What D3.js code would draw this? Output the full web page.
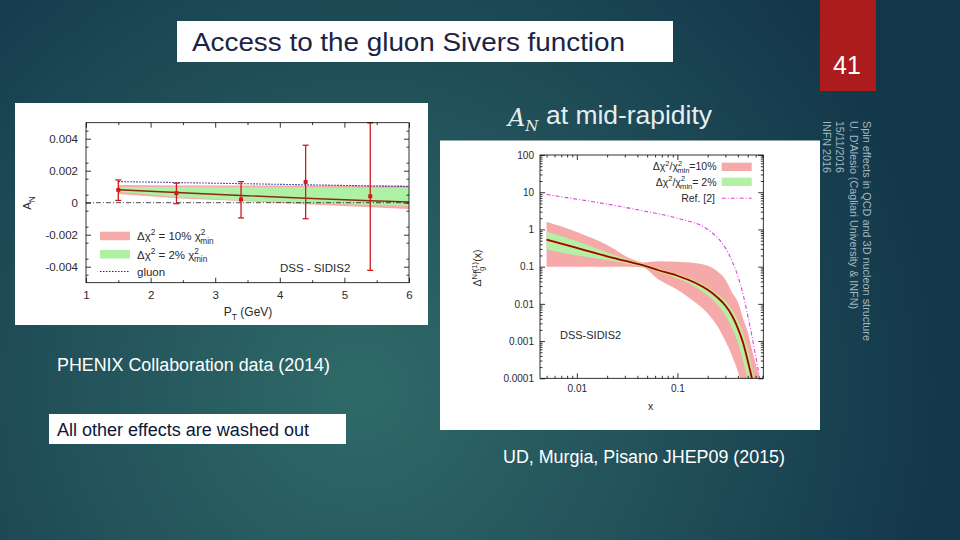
<!DOCTYPE html>
<html><head><meta charset="utf-8">
<script src="https://cdn.jsdelivr.net/npm/d3@7"></script>
<style>
body{margin:0;background:#163c4b;}
svg{display:block;}
text{font-family:"Liberation Sans",Arial,Helvetica,sans-serif;}
</style>
</head><body>
<svg id="s" width="960" height="540"></svg>
<script>
// ---------- Left chart data (PHENIX A_N vs P_T) ----------
const ptX   = [1.5, 2.4, 3.4, 4.4, 5.4];
const ptY   = [0.0008, 0.0006, 0.0002, 0.0013, 0.0004];
const ptLo  = [0.00014, -0.00006, -0.00095, -0.001, -0.00423];
const ptHi  = [0.00142, 0.00122, 0.00132, 0.00359, 0.00499];
const bandX   = [1.5, 2.4, 3.4, 4.4, 5.4, 6];
const pinkHiL = [0.0011, 0.00108, 0.00108, 0.00108, 0.00107, 0.00107];
const pinkLoL = [0.00055, 0.00028, 0.0001, -0.0001, -0.00028, -0.0004];
const greenHiL= [0.00098, 0.00098, 0.00097, 0.00096, 0.00094, 0.00093];
const greenLoL= [0.00068, 0.00036, 0.00014, -0.00002, -0.00014, -0.0002];
const centralL= [0.00081, 0.00064, 0.00045, 0.00028, 0.00012, 0.00005];
const gluonL  = [0.00132, 0.00126, 0.00119, 0.00112, 0.00105, 0.00101];
const xTicksL = [1, 2, 3, 4, 5, 6];
const yTicksL = [-0.004, -0.002, 0, 0.002, 0.004];
const yTickLabelsL = ["-0.004", "-0.002", "0", "0.002", "0.004"];

// ---------- Right chart data (gluon Sivers moment vs x) ----------
const xR       = [0.005, 0.01, 0.02, 0.035, 0.045, 0.065, 0.1, 0.15, 0.2, 0.25, 0.3, 0.35, 0.4, 0.45, 0.5, 0.55, 0.6, 0.66];
const centralR = [0.53, 0.32, 0.19, 0.13, 0.11, 0.08, 0.057, 0.037, 0.024, 0.015, 0.009, 0.0048, 0.0022, 0.0009, 0.0003, 0.0001, 0.00003, 0.00001];
const greenHiR = [0.86, 0.48, 0.24, 0.145, 0.12, 0.088, 0.063, 0.042, 0.028, 0.018, 0.012, 0.0068, 0.0035, 0.0016, 0.0006, 0.0002, 0.00005, 0.00001];
const greenLoR = [0.29, 0.2, 0.15, 0.115, 0.1, 0.072, 0.048, 0.029, 0.017, 0.0095, 0.005, 0.0022, 0.0009, 0.0003, 0.00008, 0.00002, 0.00001, 0.00001];
const pinkHiR  = [1.6, 0.85, 0.38, 0.16, 0.13, 0.14, 0.135, 0.125, 0.105, 0.075, 0.045, 0.02, 0.011, 0.004, 0.0018, 0.0006, 0.00025, 0.0001];
const pinkLoR  = [0.1, 0.1, 0.1, 0.1, 0.095, 0.045, 0.024, 0.011, 0.0055, 0.0025, 0.001, 0.0004, 0.00015, 0.00005, 0.00002, 0.00001, 0.00001, 0.00001];
const refX     = [0.005, 0.01, 0.02, 0.05, 0.1, 0.2, 0.25, 0.3, 0.35, 0.4, 0.45, 0.5, 0.55, 0.6, 0.66];
const refY     = [8.7, 6.5, 4.8, 3.0, 2.0, 1.0, 0.6, 0.32, 0.14, 0.055, 0.018, 0.005, 0.0014, 0.0004, 0.0001];
const xTicksR = [0.01, 0.1];
const xTickLabelsR = ["0.01", "0.1"];
const yTicksR = [1e-4, 1e-3, 1e-2, 1e-1, 1, 10, 100];
const yTickLabelsR = ["0.0001", "0.001", "0.01", "0.1", "1", "10", "100"];

const svg = d3.select("#s");
const defs = svg.append("defs");

// background
const rg = defs.append("radialGradient").attr("id","bg").attr("gradientUnits","userSpaceOnUse")
  .attr("cx",360).attr("cy",390).attr("r",600);
rg.append("stop").attr("offset",0).attr("stop-color","#2f6a68");
rg.append("stop").attr("offset",0.5).attr("stop-color","#22515a");
rg.append("stop").attr("offset",1).attr("stop-color","#12364a");
svg.append("rect").attr("width",960).attr("height",540).attr("fill","url(#bg)");

// page number box
svg.append("rect").attr("x",820).attr("y",0).attr("width",56).attr("height",91).attr("fill","#ad1c1c");
svg.append("text").attr("x",847).attr("y",74).attr("text-anchor","middle").attr("font-size",25).attr("fill","#ffffff").text("41");

// title box
svg.append("rect").attr("x",177).attr("y",21).attr("width",496).attr("height",41).attr("fill","#ffffff");
svg.append("text").attr("x",192).attr("y",51).attr("font-size",26).attr("fill","#1b2445")
  .attr("textLength",433).attr("lengthAdjust","spacingAndGlyphs").text("Access to the gluon Sivers function");

// side rotated text
const side = svg.append("g").attr("transform","translate(863,121) rotate(90)");
const sideLines = ["Spin effects in QCD and 3D nucleon structure","U. D'Alesio (Cagliari University & INFN)","15/11/2016","INFN 2016"];
const sideLens = [220, 188, 52, 52];
sideLines.forEach((t,i)=>{
  side.append("text").attr("x",0).attr("y",i*13.4).attr("font-size",11).attr("fill","#a3b8c0")
    .attr("textLength",sideLens[i]).attr("lengthAdjust","spacingAndGlyphs").text(t);
});

// helper for rich text
function rich(g, x, y, parts, fs, anchor, fill){
  const t = g.append("text").attr("x",x).attr("y",y).attr("font-size",fs)
    .attr("text-anchor",anchor||"start").attr("fill",fill||"#222");
  let cur = 0;
  parts.forEach(p=>{
    const off = p.s==="sup"? -0.42*fs : p.s==="sub"? 0.32*fs : 0;
    const ts = t.append("tspan").text(p.t).attr("dy", off-cur);
    if(p.s) ts.attr("font-size", fs*0.72);
    if(p.dx) ts.attr("dx", p.dx);
    if(p.it) ts.attr("font-style","italic");
    cur = off;
  });
  return t;
}

function styleAxis(g, fs){
  g.select(".domain").remove();
  g.selectAll(".tick line").attr("stroke","#000").attr("stroke-width",0.8);
  g.selectAll(".tick text").attr("font-size",fs).attr("fill","#2a2a2a").attr("font-family",'"Liberation Sans",Arial,sans-serif');
}

// ================= LEFT CHART =================
svg.append("rect").attr("x",15).attr("y",103).attr("width",413).attr("height",222).attr("fill","#ffffff");
const L = {x0:86, x1:409, y0:122.7, y1:282.7};
const xL = d3.scaleLinear().domain([1,6]).range([L.x0,L.x1]);
const yL = d3.scaleLinear().domain([-0.005,0.005]).range([L.y1,L.y0]);
const gL = svg.append("g");
defs.append("clipPath").attr("id","clipL").append("rect").attr("x",L.x0).attr("y",L.y0).attr("width",L.x1-L.x0).attr("height",L.y1-L.y0);
const pL = gL.append("g").attr("clip-path","url(#clipL)");

const bandDataL = bandX.map((x,i)=>({x, ph:pinkHiL[i], pl:pinkLoL[i], gh:greenHiL[i], gl:greenLoL[i], c:centralL[i], gu:gluonL[i]}));
pL.append("path").datum(bandDataL).attr("fill","#f6aaaa")
  .attr("d", d3.area().x(d=>xL(d.x)).y0(d=>yL(d.pl)).y1(d=>yL(d.ph)));
pL.append("path").datum(bandDataL).attr("fill","#aef0a4")
  .attr("d", d3.area().x(d=>xL(d.x)).y0(d=>yL(d.gl)).y1(d=>yL(d.gh)));
// zero line
pL.append("line").attr("x1",L.x0).attr("x2",L.x1).attr("y1",yL(0)).attr("y2",yL(0))
  .attr("stroke","#000").attr("stroke-width",0.7).attr("stroke-dasharray","5,2,1,2");
pL.append("path").datum(bandDataL).attr("fill","none").attr("stroke","#8a2a12").attr("stroke-width",1.4)
  .attr("d", d3.line().x(d=>xL(d.x)).y(d=>yL(d.c)));
pL.append("path").datum(bandDataL).attr("fill","none").attr("stroke","#2424a0").attr("stroke-width",1.1)
  .attr("stroke-dasharray","1.5,1.5")
  .attr("d", d3.line().x(d=>xL(d.x)).y(d=>yL(d.gu)));
// data points
const pts = ptX.map((x,i)=>({x, y:ptY[i], lo:ptLo[i], hi:ptHi[i]}));
const eb = gL.append("g").attr("stroke","#d01a1a").attr("stroke-width",1.3);
pts.forEach(d=>{
  eb.append("line").attr("x1",xL(d.x)).attr("x2",xL(d.x)).attr("y1",yL(d.lo)).attr("y2",yL(d.hi));
  eb.append("line").attr("x1",xL(d.x)-3).attr("x2",xL(d.x)+3).attr("y1",yL(d.lo)).attr("y2",yL(d.lo));
  eb.append("line").attr("x1",xL(d.x)-3).attr("x2",xL(d.x)+3).attr("y1",yL(d.hi)).attr("y2",yL(d.hi));
});
gL.selectAll(".pt").data(pts).join("rect").attr("class","pt")
  .attr("x",d=>xL(d.x)-2).attr("y",d=>yL(d.y)-2).attr("width",4).attr("height",4).attr("fill","#d01a1a");

// frame + axes
gL.append("rect").attr("x",L.x0).attr("y",L.y0).attr("width",L.x1-L.x0).attr("height",L.y1-L.y0)
  .attr("fill","none").attr("stroke","#000").attr("stroke-width",0.8);
const minorXL = d3.range(1,6.01,0.5).filter(v=>!xTicksL.includes(v));
const minorYL = d3.range(-0.0045,0.0046,0.001);
let ax;
ax = gL.append("g").attr("transform",`translate(0,${L.y1})`)
  .call(d3.axisBottom(xL).tickValues(xTicksL).tickSize(-5).tickPadding(8).tickFormat(d3.format("d")));
styleAxis(ax,11.5);
ax = gL.append("g").attr("transform",`translate(0,${L.y1})`)
  .call(d3.axisBottom(xL).tickValues(minorXL).tickSize(-2.5).tickFormat(""));
styleAxis(ax,0);
ax = gL.append("g").attr("transform",`translate(0,${L.y0})`)
  .call(d3.axisTop(xL).tickValues(xTicksL).tickSize(-5).tickFormat(""));
styleAxis(ax,0);
ax = gL.append("g").attr("transform",`translate(0,${L.y0})`)
  .call(d3.axisTop(xL).tickValues(minorXL).tickSize(-2.5).tickFormat(""));
styleAxis(ax,0);
ax = gL.append("g").attr("transform",`translate(${L.x0},0)`)
  .call(d3.axisLeft(yL).tickValues(yTicksL).tickSize(-5).tickPadding(8).tickFormat((d,i)=>yTickLabelsL[i]));
styleAxis(ax,11.5);
ax = gL.append("g").attr("transform",`translate(${L.x0},0)`)
  .call(d3.axisLeft(yL).tickValues(minorYL).tickSize(-2.5).tickFormat(""));
styleAxis(ax,0);
ax = gL.append("g").attr("transform",`translate(${L.x1},0)`)
  .call(d3.axisRight(yL).tickValues(yTicksL).tickSize(-5).tickFormat(""));
styleAxis(ax,0);
ax = gL.append("g").attr("transform",`translate(${L.x1},0)`)
  .call(d3.axisRight(yL).tickValues(minorYL).tickSize(-2.5).tickFormat(""));
styleAxis(ax,0);

// axis labels
rich(gL, 248, 316, [{t:"P"},{t:"T",s:"sub"},{t:" (GeV)"}], 12, "middle", "#2a2a2a");
const aln = gL.append("g").attr("transform","translate(31,203) rotate(-90)");
rich(aln, 0, 0, [{t:"A"},{t:"N",s:"sub"}], 11.5, "middle", "#2a2a2a");

// legend
gL.append("rect").attr("x",100).attr("y",231.7).attr("width",30).attr("height",8.5).attr("fill","#f6aaaa");
gL.append("rect").attr("x",100).attr("y",250).attr("width",30).attr("height",8.5).attr("fill","#aef0a4");
gL.append("line").attr("x1",100).attr("x2",130).attr("y1",271.5).attr("y2",271.5)
  .attr("stroke","#2424a0").attr("stroke-width",1.1).attr("stroke-dasharray","1.5,1.5");
rich(gL, 137, 240, [{t:"Δχ"},{t:"2",s:"sup"},{t:" = 10% χ"},{t:"2",s:"sup"},{t:"min",s:"sub",dx:-5}], 11.5, "start", "#2a2a2a");
rich(gL, 137, 258.5, [{t:"Δχ"},{t:"2",s:"sup"},{t:" = 2% χ"},{t:"2",s:"sup"},{t:"min",s:"sub",dx:-5}], 11.5, "start", "#2a2a2a");
gL.append("text").attr("x",137).attr("y",275.5).attr("font-size",11.5).attr("fill","#2a2a2a").text("gluon");
gL.append("text").attr("x",280).attr("y",272).attr("font-size",11.5).attr("fill","#2a2a2a").text("DSS - SIDIS2");

// ================= RIGHT CHART =================
svg.append("rect").attr("x",440).attr("y",140.5).attr("width",380).attr("height",289.5).attr("fill","#ffffff");
const R = {x0:540, x1:763.3, y0:155, y1:378.3};
const xRs = d3.scaleLog().domain([0.0043,0.715]).range([R.x0,R.x1]);
const yRs = d3.scaleLog().domain([1e-4,100]).range([R.y1,R.y0]);
const gR = svg.append("g");
defs.append("clipPath").attr("id","clipR").append("rect").attr("x",R.x0).attr("y",R.y0).attr("width",R.x1-R.x0).attr("height",R.y1-R.y0);
const pR = gR.append("g").attr("clip-path","url(#clipR)");
const dR = xR.map((x,i)=>({x, c:centralR[i], gh:greenHiR[i], gl:greenLoR[i], ph:pinkHiR[i], pl:pinkLoR[i]}));
const cv = d3.curveMonotoneX;
pR.append("path").datum(dR).attr("fill","#f6a9a9")
  .attr("d", d3.area().curve(cv).x(d=>xRs(d.x)).y0(d=>yRs(d.pl)).y1(d=>yRs(d.ph)));
pR.append("path").datum(dR).attr("fill","#b2f0a6")
  .attr("d", d3.area().curve(cv).x(d=>xRs(d.x)).y0(d=>yRs(d.gl)).y1(d=>yRs(d.gh)));
pR.append("path").datum(dR).attr("fill","none").attr("stroke","#f0d070").attr("stroke-width",3)
  .attr("d", d3.line().curve(cv).x(d=>xRs(d.x)).y(d=>yRs(d.c)));
pR.append("path").datum(dR).attr("fill","none").attr("stroke","#8b0a0a").attr("stroke-width",1.8)
  .attr("d", d3.line().curve(cv).x(d=>xRs(d.x)).y(d=>yRs(d.c)));
const dRef = refX.map((x,i)=>({x, y:refY[i]}));
pR.append("path").datum(dRef).attr("fill","none").attr("stroke","#e040e0").attr("stroke-width",1.1)
  .attr("stroke-dasharray","4,2,1,2")
  .attr("d", d3.line().curve(cv).x(d=>xRs(d.x)).y(d=>yRs(d.y)));

gR.append("rect").attr("x",R.x0).attr("y",R.y0).attr("width",R.x1-R.x0).attr("height",R.y1-R.y0)
  .attr("fill","none").attr("stroke","#000").attr("stroke-width",0.8);
const minorXR = [0.005,0.006,0.007,0.008,0.009,0.02,0.03,0.04,0.05,0.06,0.07,0.08,0.09,0.2,0.3,0.4,0.5,0.6,0.7];
const minorYR = [];
for(let e=-4;e<2;e++){ for(let m=2;m<10;m++) minorYR.push(m*Math.pow(10,e)); }
ax = gR.append("g").attr("transform",`translate(0,${R.y1})`)
  .call(d3.axisBottom(xRs).tickValues(xTicksR).tickSize(-5).tickPadding(7).tickFormat((d,i)=>xTickLabelsR[i]));
styleAxis(ax,10);
ax = gR.append("g").attr("transform",`translate(0,${R.y1})`)
  .call(d3.axisBottom(xRs).tickValues(minorXR).tickSize(-2.5).tickFormat(""));
styleAxis(ax,0);
ax = gR.append("g").attr("transform",`translate(0,${R.y0})`)
  .call(d3.axisTop(xRs).tickValues(xTicksR).tickSize(-5).tickFormat(""));
styleAxis(ax,0);
ax = gR.append("g").attr("transform",`translate(0,${R.y0})`)
  .call(d3.axisTop(xRs).tickValues(minorXR).tickSize(-2.5).tickFormat(""));
styleAxis(ax,0);
ax = gR.append("g").attr("transform",`translate(${R.x0},0)`)
  .call(d3.axisLeft(yRs).tickValues(yTicksR).tickSize(-5).tickPadding(6).tickFormat((d,i)=>yTickLabelsR[i]));
styleAxis(ax,10);
ax = gR.append("g").attr("transform",`translate(${R.x0},0)`)
  .call(d3.axisLeft(yRs).tickValues(minorYR).tickSize(-2.5).tickFormat(""));
styleAxis(ax,0);
ax = gR.append("g").attr("transform",`translate(${R.x1},0)`)
  .call(d3.axisRight(yRs).tickValues(yTicksR).tickSize(-5).tickFormat(""));
styleAxis(ax,0);
ax = gR.append("g").attr("transform",`translate(${R.x1},0)`)
  .call(d3.axisRight(yRs).tickValues(minorYR).tickSize(-2.5).tickFormat(""));
styleAxis(ax,0);

gR.append("text").attr("x",650.7).attr("y",410).attr("text-anchor","middle").attr("font-size",10.5).attr("fill","#2a2a2a").text("x");
const ylr = gR.append("g").attr("transform","translate(481,268) rotate(-90)");
rich(ylr, 0, 0, [{t:"Δ"},{t:"N",s:"sup"},{t:"f"},{t:"(1)",s:"sup"},{t:"g",s:"sub",dx:-9},{t:"(x)",dx:5}], 10.5, "middle", "#2a2a2a");

// legend right
rich(gR, 716.5, 170, [{t:"Δχ"},{t:"2",s:"sup"},{t:"/χ"},{t:"2",s:"sup"},{t:"min",s:"sub",dx:-5},{t:"=10%"}], 10.5, "end", "#2a2a2a");
rich(gR, 716.5, 185.5, [{t:"Δχ"},{t:"2",s:"sup"},{t:"/χ"},{t:"2",s:"sup"},{t:"min",s:"sub",dx:-5},{t:"= 2%"}], 10.5, "end", "#2a2a2a");
gR.append("text").attr("x",715).attr("y",202).attr("text-anchor","end").attr("font-size",10.5).attr("fill","#2a2a2a").text("Ref. [2]");
gR.append("rect").attr("x",721.7).attr("y",162.7).attr("width",30).attr("height",8.3).attr("fill","#f6a9a9");
gR.append("rect").attr("x",721.7).attr("y",177.7).attr("width",30).attr("height",8.3).attr("fill","#b2f0a6");
gR.append("line").attr("x1",721.7).attr("x2",751.7).attr("y1",198.3).attr("y2",198.3)
  .attr("stroke","#e040e0").attr("stroke-width",1.1).attr("stroke-dasharray","4,2,1,2");
gR.append("text").attr("x",560).attr("y",339).attr("font-size",11).attr("fill","#2a2a2a").text("DSS-SIDIS2");

// header over right image
const hdr = svg.append("text").attr("x",508).attr("y",126).attr("fill","#e6eef0");
hdr.append("tspan").attr("font-family",'"DejaVu Serif",serif').attr("font-style","italic").attr("font-size",24).text("A");
hdr.append("tspan").attr("font-family",'"DejaVu Serif",serif').attr("font-style","italic").attr("font-size",15).attr("dy",5).text("N");
svg.append("text").attr("x",546).attr("y",124).attr("fill","#e6eef0").attr("font-size",25)
  .attr("font-family","Lato, 'Liberation Sans', sans-serif")
  .attr("textLength",166).attr("lengthAdjust","spacingAndGlyphs").text("at mid-rapidity");

// ================= slide texts =================
svg.append("text").attr("x",57).attr("y",371).attr("font-size",18).attr("fill","#ffffff")
  .attr("textLength",273).attr("lengthAdjust","spacingAndGlyphs").text("PHENIX Collaboration data (2014)");
svg.append("rect").attr("x",49).attr("y",414).attr("width",297).attr("height",30).attr("fill","#ffffff");
svg.append("text").attr("x",57).attr("y",436).attr("font-size",18).attr("fill","#0b1736")
  .attr("textLength",252).attr("lengthAdjust","spacingAndGlyphs").text("All other effects are washed out");
svg.append("text").attr("x",503).attr("y",463).attr("font-size",18).attr("fill","#ffffff")
  .attr("textLength",282).attr("lengthAdjust","spacingAndGlyphs").text("UD, Murgia, Pisano JHEP09 (2015)");
</script>
</body></html>
